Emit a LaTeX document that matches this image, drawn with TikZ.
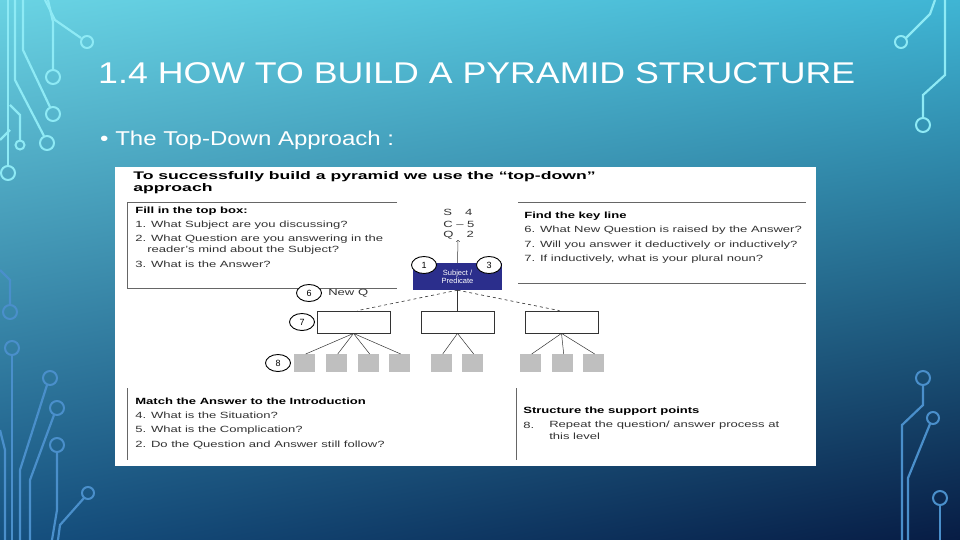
\documentclass[tikz,border=0pt]{standalone}
\usepackage{fontspec}
\setmainfont{Liberation Sans}
\usetikzlibrary{shadings,shapes.geometric}
\begin{document}
\begin{tikzpicture}[x=1pt,y=-1pt,
  cl/.style={line width=2.2pt,color=#1},
  ring/.style={draw=#1,line width=2pt,fill=none},
  txt/.style={anchor=west,inner sep=0pt,font=\fontsize{9}{10}\selectfont,text=black!80,xscale=1.45},
  bt/.style={anchor=west,inner sep=0pt,font=\fontsize{9}{10}\selectfont\bfseries,text=black,xscale=1.45},
  num/.style={draw=black,ellipse,minimum width=25pt,minimum height=17pt,inner sep=0pt,fill=white,line width=0.9pt,font=\fontsize{9}{10}\selectfont},
  wbox/.style={draw=black!80,fill=white,minimum width=73pt,minimum height=22pt,inner sep=0pt,line width=0.8pt},
  gsq/.style={fill=black!25,minimum width=21pt,minimum height=18pt,inner sep=0pt,anchor=north west},
  fan/.style={black!80,line width=0.5pt}]
\definecolor{tl}{HTML}{6AD3E3}\definecolor{tr}{HTML}{3FB5D4}
\definecolor{bl}{HTML}{15507F}\definecolor{br}{HTML}{071C44}
\definecolor{cu}{HTML}{8EEAF5}\definecolor{cd}{HTML}{4A8FCB}
\definecolor{pblue}{HTML}{2B2E8C}
\useasboundingbox (0,0) rectangle (960,540);
\shade[upper left=tl,upper right=tr,lower left=bl,lower right=br] (0,0) rectangle (960,540);
% circuits upper left
\draw[cl=cu] (45,0)--(55,20)--(81,38); \draw[ring=cu] (87,42) circle (6);
\draw[cl=cu] (48,0)--(53,22)--(53,70); \draw[ring=cu] (53,77) circle (7);
\draw[cl=cu] (23,0)--(23,50)--(50,107); \draw[ring=cu] (53,114) circle (7);
\draw[cl=cu] (15,0)--(15,80)--(44,136); \draw[ring=cu] (47,143) circle (7);
\draw[cl=cu] (10,105)--(20,115)--(20,140); \draw[ring=cu] (20,145) circle (4.5);
\draw[cl=cu] (0,140)--(10,130);
\draw[cl=cu] (8,0)--(8,166); \draw[ring=cu] (8,173) circle (7);
% lower left
\draw[cl=cd] (0,270)--(10,280)--(10,305); \draw[ring=cd] (10,312) circle (7);
\draw[ring=cd] (12,348) circle (7); \draw[cl=cd] (12,355)--(12,540);
\draw[ring=cd] (50,378) circle (7); \draw[cl=cd] (47,385)--(20,470)--(20,540);
\draw[ring=cd] (57,408) circle (7); \draw[cl=cd] (54,415)--(30,480)--(30,540);
\draw[ring=cd] (57,445) circle (7); \draw[cl=cd] (57,452)--(57,510)--(52,540);
\draw[ring=cd] (88,493) circle (6); \draw[cl=cd] (84,498)--(60,525)--(58,540);
\draw[cl=cd] (0,430)--(5,450)--(5,540);
% right
\draw[ring=cu] (901,42) circle (6); \draw[cl=cu] (906,38)--(930,14)--(935,0);
\draw[ring=cu] (923,125) circle (7); \draw[cl=cu] (923,118)--(923,95)--(945,75)--(945,0);
\draw[ring=cd] (923,378) circle (7); \draw[cl=cd] (923,385)--(923,405)--(902,425)--(902,540);
\draw[ring=cd] (933,418) circle (6); \draw[cl=cd] (930,424)--(908,478)--(908,540);
\draw[ring=cd] (940,498) circle (7); \draw[cl=cd] (940,505)--(940,540);
% titles
\node[anchor=west,inner sep=0pt,text=white,font=\fontsize{30}{32}\selectfont,xscale=1.19] (title) at (98,73) {1.4 HOW TO BUILD A PYRAMID STRUCTURE};
\node[anchor=west,inner sep=0pt,text=white,font=\fontsize{20}{22}\selectfont,xscale=1.2] (sub) at (100,140) {\textbullet\ The Top-Down Approach :};
% panel
\fill[white] (115,167) rectangle (816,466);
\node[anchor=west,inner sep=0pt,font=\fontsize{11}{12}\selectfont\bfseries,xscale=1.6] (h1) at (133,177) {To successfully build a pyramid we use the “top-down”};
\node[anchor=west,inner sep=0pt,font=\fontsize{11}{12}\selectfont\bfseries,xscale=1.6] (h2) at (133,189) {approach};
% top-left box
\draw[black!60,line width=0.6pt] (397,202)--(127,202)--(127,288)--(397,288);
\node[bt] (f0) at (135,211) {Fill in the top box:};
\node[txt] (f1) at (135,225) {1. What Subject are you discussing?};
\node[txt] (f2) at (135,239) {2. What Question are you answering in the};
\node[txt] (f2b) at (147,250) {reader’s mind about the Subject?};
\node[txt] (f3) at (135,264) {3. What is the Answer?};
% SCQ
\node[txt] (s) at (443,212) {S\quad 4};
\node[txt] (c) at (443,224) {C -- 5};
\node[txt] (q) at (443,235) {Q\quad 2};
% blue box
\node[fill=pblue,minimum width=89pt,minimum height=27pt,inner sep=0pt,text=white,align=center,font=\fontsize{7.5}{8}\selectfont] (top) at (457.5,276.5) {Subject /\\Predicate};
\coordinate (arr) at (458,240);
\draw[->,black!80,line width=0.5pt] (top.north) -- (arr);
\node[num] (n1) at (424,265) {1};
\node[num] (n3) at (489,265) {3};
% key line box
\draw[black!60,line width=0.6pt] (518,202)--(806,202) (518,283)--(806,283);
\node[bt] (k0) at (524,216) {Find the key line};
\node[txt] (k1) at (524,230) {6. What New Question is raised by the Answer?};
\node[txt] (k2) at (524,245) {7. Will you answer it deductively or inductively?};
\node[txt] (k3) at (524,259) {7. If inductively, what is your plural noun?};
% level 2
\node[num] (n6) at (309,293) {6};
\node[txt] (newq) at (328,293) {New Q};
\node[wbox] (b1) at (353.5,322) {};
\node[wbox] (b2) at (457.5,322) {};
\node[wbox] (b3) at (561.5,322) {};
\node[num] (n7) at (302,322) {7};
\draw[black!80,line width=0.6pt] (top.south) -- (b2.north);
\draw[black!80,dashed,line width=0.6pt] (top.south) -- ([xshift=4pt]b1.north);
\draw[black!80,dashed,line width=0.6pt] (top.south) -- ([xshift=-2pt]b3.north);
% squares
\node[gsq] (q1) at (294,354) {}; \node[gsq] (q2) at (326,354) {};
\node[gsq] (q3) at (358,354) {}; \node[gsq] (q4) at (389,354) {};
\node[gsq] (q5) at (431,354) {}; \node[gsq] (q6) at (462,354) {};
\node[gsq] (q7) at (520,354) {}; \node[gsq] (q8) at (552,354) {};
\node[gsq] (q9) at (583,354) {};
\node[num] (n8) at (278,363) {8};
\foreach \s in {q1,q2,q3,q4} \draw[fan] (b1.south) -- ([xshift=1pt]\s.north);
\foreach \s in {q5,q6} \draw[fan] (b2.south) -- ([xshift=1pt]\s.north);
\foreach \s in {q7,q8,q9} \draw[fan] (b3.south) -- ([xshift=1pt]\s.north);
% bottom left
\draw[black!60,line width=0.6pt] (127,388)--(127,460);
\node[bt] (m0) at (135,401) {Match the Answer to the Introduction};
\node[txt] (m1) at (135,415) {4. What is the Situation?};
\node[txt] (m2) at (135,430) {5. What is the Complication?};
\node[txt] (m3) at (135,445) {2. Do the Question and Answer still follow?};
% bottom right
\draw[black!60,line width=0.6pt] (516,388)--(516,460);
\node[bt] (r0) at (523,411) {Structure the support points};
\node[txt] (r1) at (523,425) {8.};
\node[txt] (r2) at (549,425) {Repeat the question/ answer process at};
\node[txt] (r3) at (549,436) {this level};
\end{tikzpicture}
\end{document}
